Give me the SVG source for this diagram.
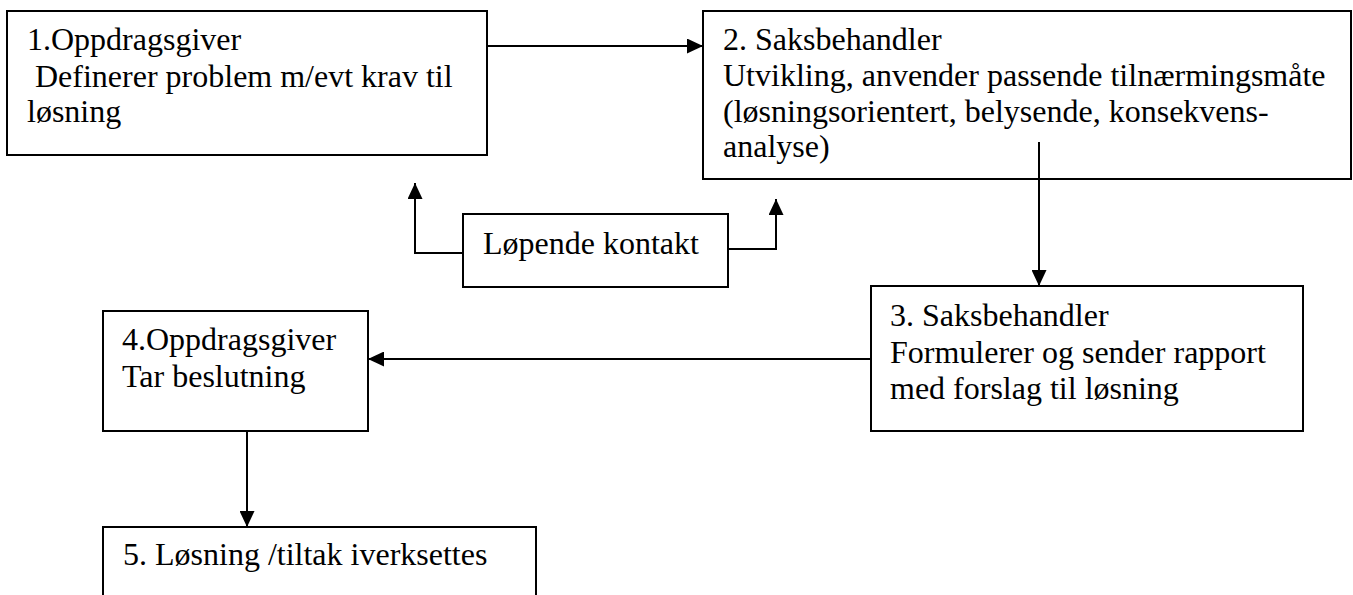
<svg xmlns="http://www.w3.org/2000/svg" width="1353" height="595" viewBox="0 0 1353 595">
  <style>
    .box { fill: #ffffff; stroke: #000000; stroke-width: 2; }
    .lbl { font-family: "Liberation Serif", "Times New Roman", serif; font-size: 32px; fill: #000000; }
    .conn { fill: none; stroke: #000000; stroke-width: 2; }
  </style>
  <defs>
    <marker id="arrow" markerUnits="userSpaceOnUse" markerWidth="16" markerHeight="15" refX="16" refY="7.5" orient="auto">
      <path d="M0,0 L16,7.5 L0,15 z" fill="#000000"/>
    </marker>
  </defs>
  <rect width="1353" height="595" fill="#ffffff"/>

  <g id="node1">
    <rect class="box" x="7" y="11" width="480" height="144"/>
    <text class="lbl" x="27" y="50">1.Oppdragsgiver</text>
    <text class="lbl" x="27" y="87" xml:space="preserve"> Definerer problem m/evt krav til</text>
    <text class="lbl" x="27" y="122">løsning</text>
  </g>

  <g id="node2">
    <rect class="box" x="703" y="11" width="648" height="168"/>
    <text class="lbl" x="723" y="50">2. Saksbehandler</text>
    <text class="lbl" x="723" y="86">Utvikling, anvender passende tilnærmingsmåte</text>
    <text class="lbl" x="723" y="121.5">(løsningsorientert, belysende, konsekvens-</text>
    <text class="lbl" x="723" y="157">analyse)</text>
  </g>

  <g id="node-kontakt">
    <rect class="box" x="463" y="214" width="265" height="73"/>
    <text class="lbl" x="483" y="254">Løpende kontakt</text>
  </g>

  <g id="node3">
    <rect class="box" x="871" y="286" width="432" height="145"/>
    <text class="lbl" x="890" y="326">3. Saksbehandler</text>
    <text class="lbl" x="890" y="362.5">Formulerer og sender rapport</text>
    <text class="lbl" x="890" y="399">med forslag til løsning</text>
  </g>

  <g id="node4">
    <rect class="box" x="103" y="311" width="265" height="120"/>
    <text class="lbl" x="122" y="350">4.Oppdragsgiver</text>
    <text class="lbl" x="122" y="387">Tar beslutning</text>
  </g>

  <g id="node5">
    <rect class="box" x="103" y="527" width="433" height="100"/>
    <text class="lbl" x="123" y="565">5. Løsning /tiltak iverksettes</text>
  </g>

  <g id="connectors">
    <path class="conn" d="M487,46 H703" marker-end="url(#arrow)"/>
    <path class="conn" d="M1039,142 V286" marker-end="url(#arrow)"/>
    <path class="conn" d="M871,359 H368" marker-end="url(#arrow)"/>
    <path class="conn" d="M247,431 V527" marker-end="url(#arrow)"/>
    <path class="conn" d="M463,253 H415 V183" marker-end="url(#arrow)"/>
    <path class="conn" d="M728,249 H776 V199" marker-end="url(#arrow)"/>
  </g>
</svg>
